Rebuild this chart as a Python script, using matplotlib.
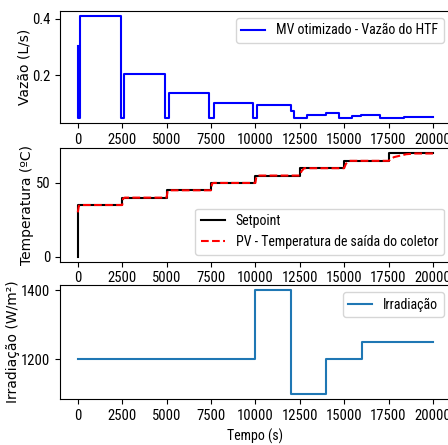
import matplotlib.pyplot as plt
import numpy as np

# vazão (MV otimizado), degraus
t_mv = [0, 20, 150, 2410, 2600, 4900, 5120, 7380, 7650, 9870, 10090, 11980, 12170,
        12880, 13950, 14730, 15460, 15930, 17020, 18380, 20000]
mv = [0.304, 0.05, 0.41, 0.05, 0.207, 0.05, 0.138, 0.05, 0.103, 0.05, 0.096, 0.076, 0.051,
      0.062, 0.068, 0.051, 0.058, 0.061, 0.051, 0.054, 0.054]

# setpoint
t_sp = [0, 20, 2500, 5000, 7500, 10000, 12500, 15000, 17500, 20000]
sp = [0, 35, 40, 45, 50, 55, 60, 65, 70, 70]

# PV - temperatura de saída do coletor
t_pv = [0, 60, 150, 2500, 2560, 2650, 5000, 5060, 5150, 7500, 7560, 7650, 10000, 10060, 10150,
        12500, 12600, 12750, 15000, 15100, 15300, 17500, 17800, 18500, 19000, 20000]
pv = [30, 34.5, 35, 35, 39.5, 40, 40, 44.5, 45, 45, 49.5, 50, 50, 54.5, 55,
      55, 58, 60, 60, 63, 65, 65, 67.5, 69.5, 70, 70]

# irradiação
t_irr = [0, 10000, 12000, 14000, 16000, 20000]
irr = [1200, 1400, 1100, 1200, 1250, 1250]

narrow = ['Roboto Condensed', 'DejaVu Sans']
xticks = np.arange(0, 20001, 2500)
leg_kw = dict(prop={'family': narrow, 'size': 10}, handlelength=1.7)

fig = plt.figure(figsize=(4.48, 4.45), dpi=100)
ax1 = fig.add_axes([0.134, 0.7236, 0.872, 0.2517])
ax2 = fig.add_axes([0.134, 0.4119, 0.872, 0.2548])
ax3 = fig.add_axes([0.134, 0.1034, 0.872, 0.256])

ax1.plot(t_mv, mv, color='blue', drawstyle='steps-post', label='MV otimizado - Vazão do HTF')
ax1.set_ylabel('Vazão (L/s)', labelpad=0)
ax1.set_yticks([0.2, 0.4])
ax1.legend(loc='upper right', **leg_kw)

ax2.plot(t_sp, sp, color='black', drawstyle='steps-post', label='Setpoint')
ax2.plot(t_pv, pv, color='red', linestyle='--', label='PV - Temperatura de saída do coletor')
ax2.set_ylabel('Temperatura (ºC)', labelpad=1)
ax2.set_yticks([0, 50])
ax2.legend(loc='lower right', **leg_kw)

ax3.plot(t_irr, irr, color='tab:blue', drawstyle='steps-post', label='Irradiação')
ax3.set_ylabel('Irradiação (W/m²)', labelpad=1)
ax3.set_xlabel('Tempo (s)', family=narrow, size=10)
ax3.set_yticks([1200, 1400])
ax3.legend(loc='upper right', **leg_kw)

for ax in (ax1, ax2, ax3):
    ax.set_xticks(xticks)
    for lab in ax.get_xticklabels() + ax.get_yticklabels():
        lab.set_family(narrow)
        lab.set_size(10.5)

fig.savefig('out.png', dpi=100)
